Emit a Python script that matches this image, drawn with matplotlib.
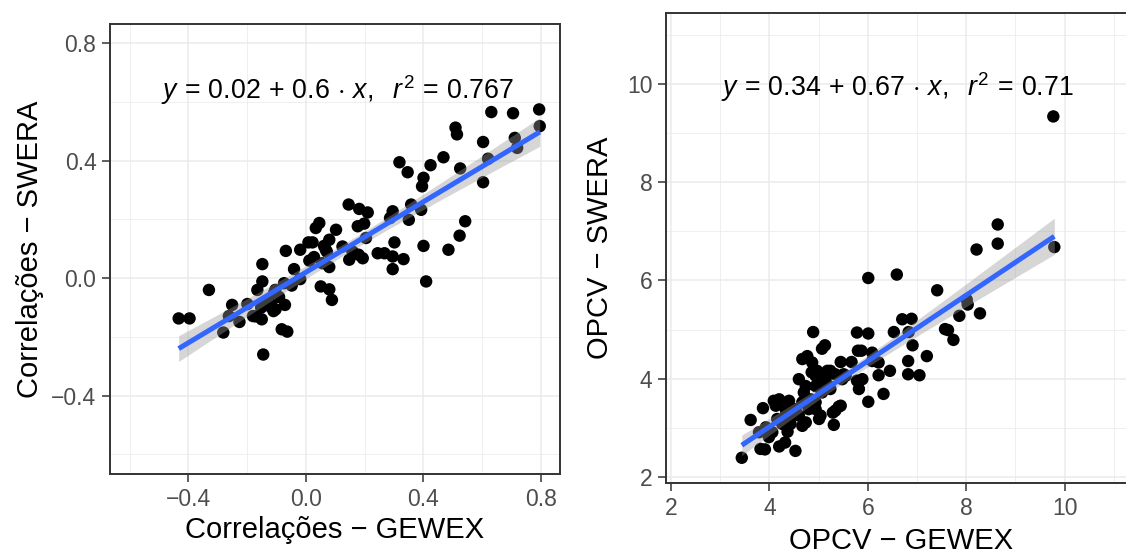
import numpy as np
import matplotlib
matplotlib.use("Agg")
import matplotlib.pyplot as plt

plt.rcParams["font.family"] = ["Liberation Sans", "DejaVu Sans"]
plt.rcParams["mathtext.fontset"] = "custom"
plt.rcParams["mathtext.rm"] = "Liberation Sans"
plt.rcParams["mathtext.it"] = "Liberation Sans:italic"
plt.rcParams["mathtext.bf"] = "Liberation Sans:bold"

# --- Correlations: GEWEX vs SWERA ---
corr_gewex = [
    -0.433, -0.396, -0.330, -0.281, -0.251, -0.262, -0.226, -0.199, -0.180, -0.165,
    -0.148, -0.148, -0.150, -0.145, -0.137, -0.120, -0.108, -0.103, -0.082, -0.063,
    -0.071, -0.068, -0.074, -0.048, -0.040, -0.019, -0.019, 0.009, 0.023, 0.028,
    0.034, 0.046, 0.051, 0.080, 0.089, 0.080, 0.080, 0.103, 0.068, 0.057,
    0.125, 0.148, 0.146, 0.159, 0.182, 0.211, 0.177, 0.199, 0.205, 0.194,
    0.180, 0.245, 0.268, 0.296, 0.296, 0.302, 0.296, 0.287, 0.333, 0.319,
    0.347, 0.351, 0.359, 0.393, 0.401, 0.410, 0.396, 0.401, 0.425, 0.469,
    0.486, 0.510, 0.515, 0.526, 0.524, 0.543, 0.604, 0.604, 0.621, 0.632,
    0.706, 0.712, 0.720, 0.795, 0.797,
    -0.171, -0.152, -0.116, -0.104, -0.091, -0.128, -0.110, 0.012, 0.062, 0.072,
]
corr_swera = [
    -0.137, -0.137, -0.040, -0.185, -0.091, -0.129, -0.149, -0.088, -0.129, -0.040,
    -0.011, 0.048, -0.140, -0.260, -0.085, -0.097, -0.051, -0.106, -0.174, -0.182,
    -0.091, 0.093, -0.017, -0.025, 0.031, -0.003, 0.097, 0.122, 0.122, 0.072,
    0.171, 0.188, -0.028, -0.038, -0.074, 0.038, 0.131, 0.165, 0.097, 0.051,
    0.108, 0.063, 0.251, 0.091, 0.236, 0.224, 0.177, 0.186, 0.137, 0.068,
    0.080, 0.085, 0.085, 0.074, 0.031, 0.122, 0.228, 0.205, 0.065, 0.395,
    0.361, 0.199, 0.251, 0.233, 0.110, -0.011, 0.313, 0.342, 0.385, 0.412,
    0.097, 0.513, 0.490, 0.374, 0.145, 0.194, 0.327, 0.464, 0.407, 0.566,
    0.562, 0.478, 0.444, 0.575, 0.518,
    -0.130, -0.100, -0.076, -0.040, -0.064, -0.088, -0.112, 0.060, 0.110, 0.090,
]
corr_intercept, corr_slope, corr_r2 = 0.02, 0.6, 0.767

# --- OPCV: GEWEX vs SWERA ---
opcv_gewex = [
    3.44, 3.62, 3.87, 3.79, 3.82, 3.91, 3.99, 4.20, 4.32, 4.37,
    4.53, 4.20, 4.13, 4.40, 4.33, 4.47, 4.67, 4.74, 4.77, 4.89,
    4.87, 5.07, 5.13, 4.94, 5.18, 5.04, 4.94, 5.07, 5.24, 5.31,
    5.41, 5.34, 5.45, 5.67, 5.48, 5.78, 5.82, 5.87, 5.78, 6.01,
    6.01, 6.01, 6.09, 6.22, 6.22, 6.32, 6.45, 6.53, 6.59, 6.70,
    6.89, 6.83, 6.82, 6.82, 6.91, 7.05, 7.20, 7.41, 7.63, 7.74,
    7.86, 8.03, 8.28, 8.21, 8.64, 8.64, 9.77, 9.79, 5.45, 5.29,
    4.60, 4.70, 4.84, 4.94, 5.01, 5.04, 5.14, 5.21, 4.80, 4.60,
    4.74, 4.94, 4.67, 4.43, 4.53, 4.86, 4.97, 5.51, 5.89, 5.80,
    5.13, 4.09, 4.16, 3.93, 4.26, 4.06, 4.33, 4.67, 5.34, 5.24,
    5.55, 6.09, 7.57, 8.01,
]
opcv_swera = [
    2.39, 3.16, 3.40, 2.91, 2.57, 2.56, 2.81, 2.62, 2.70, 2.92,
    2.53, 3.58, 3.45, 3.55, 3.38, 3.28, 3.04, 3.85, 4.46, 4.95,
    4.33, 4.61, 4.68, 4.06, 4.16, 3.25, 3.52, 3.72, 3.79, 3.06,
    3.43, 3.35, 4.34, 4.34, 3.99, 3.96, 3.79, 4.57, 4.94, 4.92,
    6.05, 3.53, 4.53, 4.33, 4.07, 3.69, 4.16, 4.95, 6.12, 5.21,
    5.22, 4.95, 4.36, 4.09, 4.68, 4.07, 4.46, 5.80, 4.99, 4.79,
    5.28, 5.51, 5.33, 6.63, 7.14, 6.75, 9.34, 6.68, 3.45, 3.31,
    3.99, 3.72, 3.58, 3.38, 3.18, 3.92, 3.99, 3.85, 3.38, 3.25,
    3.11, 3.85, 3.52, 3.08, 3.38, 4.13, 4.16, 4.09, 3.99, 4.57,
    3.89, 3.55, 3.18, 3.01, 3.08, 2.91, 3.25, 4.40, 4.09, 4.16,
    4.06, 4.36, 5.01, 5.61,
]
opcv_intercept, opcv_slope, opcv_r2 = 0.34, 0.67, 0.71

corr_ticks = [-0.4, 0.0, 0.4, 0.8]
corr_tick_labels = ["\u22120.4", "0.0", "0.4", "0.8"]
corr_minor = [-0.6, -0.2, 0.2, 0.6]
opcv_ticks = [2, 4, 6, 8, 10]
opcv_tick_labels = ["2", "4", "6", "8", "10"]
opcv_minor = [3, 5, 7, 9, 11]

W, H = 1126, 554
fig = plt.figure(figsize=(W / 100, H / 100), dpi=100)
fig.patch.set_facecolor("white")


def px_axes(left, top, width, height):
    return fig.add_axes([left / W, (H - top - height) / H, width / W, height / H])


def style(ax, ticks, labels, minor, xlim, ylim):
    ax.set_xlim(*xlim)
    ax.set_ylim(*ylim)
    ax.set_xticks(ticks)
    ax.set_xticklabels(labels)
    ax.set_yticks(ticks)
    ax.set_yticklabels(labels)
    ax.set_xticks(minor, minor=True)
    ax.set_yticks(minor, minor=True)
    ax.grid(which="major", color="#EBEBEB", lw=1.1)
    ax.grid(which="minor", color="#EBEBEB", lw=0.55)
    ax.set_axisbelow(True)
    for s in ax.spines.values():
        s.set_color("#333333")
        s.set_linewidth(1.4)
    ax.tick_params(which="major", length=5.8, width=1.1, color="#333333",
                   labelsize=16.5, labelcolor="#4D4D4D", pad=4.0)
    ax.tick_params(which="minor", length=0)


def fit_panel(ax, x, y, b0, b1, r2, eq_xy):
    x = np.asarray(x)
    y = np.asarray(y)
    ax.scatter(x, y, s=80, color="black", edgecolors="none", zorder=3)
    # confidence band of the linear fit
    n = len(x)
    xs = np.linspace(x.min(), x.max(), 80)
    yhat = b0 + b1 * xs
    resid = y - (b0 + b1 * x)
    s_err = np.sqrt(np.sum(resid ** 2) / (n - 2))
    sxx = np.sum((x - x.mean()) ** 2)
    se = s_err * np.sqrt(1 / n + (xs - x.mean()) ** 2 / sxx)
    ax.fill_between(xs, yhat - 1.98 * se, yhat + 1.98 * se,
                    color="#999999", alpha=0.4, lw=0, zorder=4)
    ax.plot(xs, yhat, color="#3366FF", lw=3.6, zorder=5, solid_capstyle="butt")
    eq = (r"$y\,=\,%s\,+\,%s\,\cdot\,x,\ \ r^2\,=\,%s$"
          % (f"{b0:g}", f"{b1:g}", f"{r2:g}"))
    ax.text(eq_xy[0], eq_xy[1], eq, ha="center", va="baseline",
            fontsize=19.3, color="black", zorder=6)


ax1 = px_axes(110, 24, 450, 450)
style(ax1, corr_ticks, corr_tick_labels, corr_minor, (-0.667, 0.866), (-0.667, 0.866))
fit_panel(ax1, corr_gewex, corr_swera, corr_intercept, corr_slope, corr_r2, (0.109, 0.609))

ax2 = px_axes(666, 13.3, 470, 470)
style(ax2, opcv_ticks, opcv_tick_labels, opcv_minor, (1.9, 11.45), (1.87, 11.44))
ax2.spines["right"].set_visible(False)
fit_panel(ax2, opcv_gewex, opcv_swera, opcv_intercept, opcv_slope, opcv_r2, (6.6, 9.75))

title_kw = dict(fontsize=21, color="black")
fig.text(335 / W, 1 - 538 / H, "Correlações \u2212 GEWEX", ha="center", va="baseline", **title_kw)
fig.text(30 / W, 1 - 249 / H, "Correlações \u2212 SWERA", ha="center", va="center",
         rotation=90, **title_kw)
fig.text(901 / W, 1 - 549 / H, "OPCV \u2212 GEWEX", ha="center", va="baseline", **title_kw)
fig.text(600 / W, 1 - 248 / H, "OPCV \u2212 SWERA", ha="center", va="center",
         rotation=90, **title_kw)

fig.savefig("out.png", dpi=100, facecolor="white")
